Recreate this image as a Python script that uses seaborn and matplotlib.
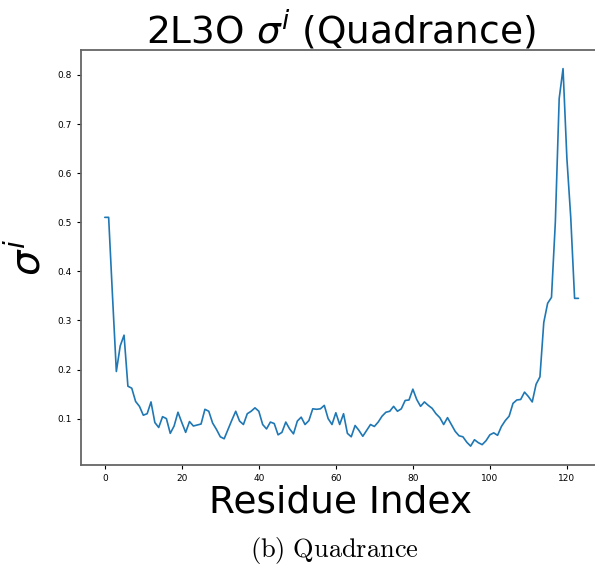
import matplotlib
matplotlib.use("Agg")
import matplotlib.pyplot as plt
import seaborn as sns
import numpy as np
import pandas as pd

# Per-residue quadrance values for 2L3O
residue_index = list(range(124))
sigma_values = [
    0.510, 0.510, 0.350, 0.196, 0.248, 0.270, 0.166, 0.162, 0.135, 0.125,
    0.107, 0.110, 0.134, 0.092, 0.082, 0.104, 0.100, 0.070, 0.085, 0.113,
    0.092, 0.072, 0.094, 0.085, 0.087, 0.089, 0.119, 0.115, 0.091, 0.078,
    0.063, 0.059, 0.078, 0.097, 0.115, 0.095, 0.088, 0.110, 0.115, 0.122,
    0.115, 0.088, 0.079, 0.093, 0.090, 0.067, 0.072, 0.093, 0.079, 0.069,
    0.095, 0.103, 0.088, 0.096, 0.120, 0.119, 0.120, 0.127, 0.100, 0.088,
    0.112, 0.088, 0.110, 0.070, 0.063, 0.086, 0.076, 0.064, 0.076, 0.088,
    0.084, 0.093, 0.105, 0.113, 0.115, 0.125, 0.115, 0.120, 0.137, 0.138,
    0.160, 0.139, 0.125, 0.134, 0.127, 0.121, 0.110, 0.102, 0.088, 0.102,
    0.088, 0.074, 0.065, 0.063, 0.052, 0.044, 0.057, 0.051, 0.047, 0.055,
    0.067, 0.071, 0.066, 0.084, 0.096, 0.105, 0.131, 0.138, 0.139, 0.154,
    0.145, 0.134, 0.170, 0.185, 0.296, 0.335, 0.347, 0.500, 0.752, 0.813,
    0.630, 0.510, 0.345, 0.345,
]

title_text = r"2L3O $\sigma^i$ (Quadrance)"
x_label = "Residue Index"
y_label = r"$\sigma^i$"
caption = r"$\mathrm{(b)\ Quadrance}$"

df = pd.DataFrame({"residue": residue_index, "sigma": sigma_values})

sns.set_style("white")
plt.rcParams["font.family"] = ["DejaVu Sans"]
plt.rcParams["text.color"] = "black"

fig = plt.figure(figsize=(5.95, 5.65), dpi=100)
# plotting area reaches the right edge of the canvas, no right frame line
ax = fig.add_axes([0.136, 0.177, 0.864, 0.735])

sns.lineplot(data=df, x="residue", y="sigma", ax=ax, color="#1f77b4", linewidth=1.2)

ax.set_xlim(-6.2, 127.3)
ax.set_xticks([0, 20, 40, 60, 80, 100, 120])
ax.set_yticks([0.1, 0.2, 0.3, 0.4, 0.5, 0.6, 0.7, 0.8])
ax.tick_params(axis="both", labelsize=6.5, length=3, width=0.8, colors="black",
               bottom=True, left=True, direction="out")
for s in ax.spines.values():
    s.set_color("0.4")
    s.set_linewidth(1.3)
ax.spines["right"].set_visible(False)

# centre of the full (uncropped) plotting area
ax.set_title(title_text, fontsize=27, pad=4, color="black", x=0.506)
ax.set_xlabel(x_label, fontsize=27, labelpad=1, color="black")
ax.xaxis.label.set_x(0.506)
ax.set_ylabel(y_label, fontsize=29, labelpad=6, color="black")

fig.text(0.562, 0.026, caption, ha="center", va="center", fontsize=19,
         math_fontfamily="cm", color="black")

fig.savefig("out.png", dpi=100)
